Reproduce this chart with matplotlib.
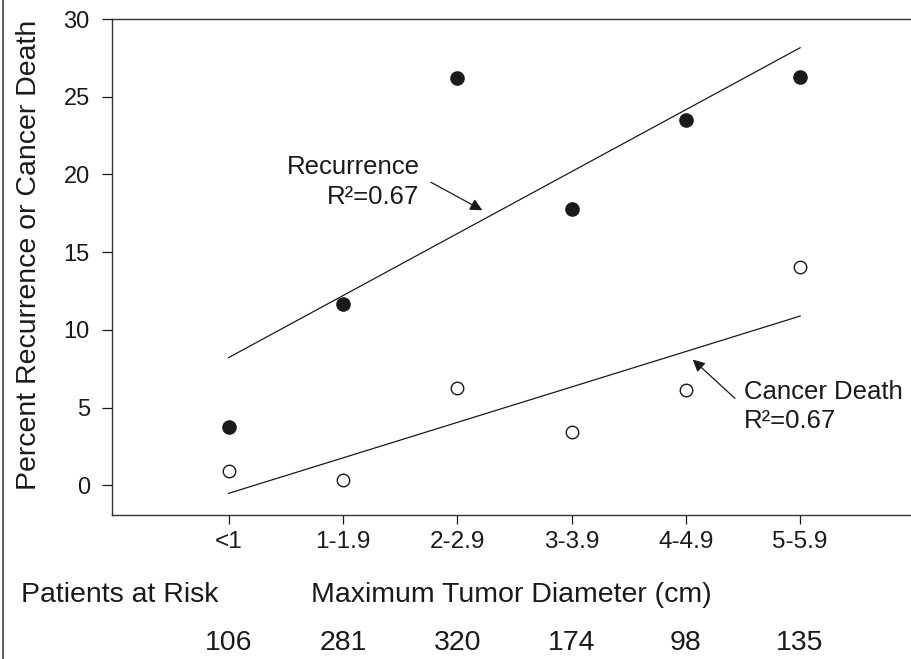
import numpy as np
import matplotlib.pyplot as plt
from matplotlib.lines import Line2D

plt.rcParams['font.family'] = ['Liberation Sans', 'DejaVu Sans']

# datos
categorias = ['<1', '1-1.9', '2-2.9', '3-3.9', '4-4.9', '5-5.9']
recurrencia = [3.74, 11.69, 26.18, 17.78, 23.49, 26.24]
muerte = [0.96, 0.37, 6.24, 3.44, 6.11, 14.04]
pacientes = [106, 281, 320, 174, 98, 135]

x = np.arange(len(categorias))
tinta = '#1a1a1a'

fig = plt.figure(figsize=(9.11, 6.59), dpi=100)
ax = fig.add_axes([112/911, 144/659, 1 - 112/911, 496/659])

# rectas de regresion
m1, b1 = np.polyfit(x, recurrencia, 1)
m2, b2 = np.polyfit(x, muerte, 1)
xr = np.array([x[0], x[-1]])
ax.plot(xr, m1*xr + b1, color=tinta, lw=0.9)
ax.plot(xr, m2*xr + b2, color=tinta, lw=0.9)

ax.plot(x, recurrencia, 'o', color=tinta, ms=9.5, mec=tinta)
ax.plot(x, muerte, 'o', mfc='white', mec=tinta, mew=1.0, ms=9)

ax.set_xlim(-1.02, 5.97)
ax.set_ylim(-1.9, 30)
ax.set_xticks(x)
ax.set_xticklabels(categorias)
ax.set_yticks([0, 5, 10, 15, 20, 25, 30])
ax.tick_params(axis='y', labelsize=17, colors=tinta, length=7, width=0.9, pad=9)
ax.tick_params(axis='x', labelsize=17.5, colors=tinta, length=6.5, width=0.9, pad=5)
ax.spines['right'].set_visible(False)
for s in ['top', 'left', 'bottom']:
    ax.spines[s].set_color('#333333')
    ax.spines[s].set_linewidth(1.0)

fig.text(29/911, 0.613, 'Percent Recurrence or Cancer Death', fontsize=20.5,
         color=tinta, rotation=90, ha='center', va='center')

# anotaciones
ax.text(1.67, 20.04, 'Recurrence', fontsize=18.5, color=tinta, ha='right', va='baseline')
ax.text(1.67, 18.11, 'R²=0.67', fontsize=18.5, color=tinta, ha='right', va='baseline')
ax.annotate('', xy=(2.22, 17.7), xytext=(1.77, 19.5),
            arrowprops=dict(arrowstyle='-|>', color=tinta, lw=0.9,
                            mutation_scale=18, shrinkA=0, shrinkB=0))
ax.text(4.51, 5.58, 'Cancer Death', fontsize=18.5, color=tinta, ha='left', va='baseline')
ax.text(4.51, 3.69, 'R²=0.67', fontsize=18.5, color=tinta, ha='left', va='baseline')
ax.annotate('', xy=(4.06, 8.1), xytext=(4.43, 5.6),
            arrowprops=dict(arrowstyle='-|>', color=tinta, lw=0.9,
                            mutation_scale=18, shrinkA=0, shrinkB=0))

# texto inferior
tr = ax.get_xaxis_transform()
ax.text(-1.814, -0.175, 'Patients at Risk', transform=tr, fontsize=20.5,
        color=tinta, ha='left', va='baseline', clip_on=False)
ax.text(0.717, -0.175, 'Maximum Tumor Diameter (cm)', transform=tr, fontsize=20.5,
        color=tinta, ha='left', va='baseline', clip_on=False)
for xi, n in zip(x, pacientes):
    ax.text(xi, -0.272, str(n), transform=tr, fontsize=20.5, color=tinta,
            ha='center', va='baseline', clip_on=False)

# borde izquierdo
fig.add_artist(Line2D([3/911, 3/911], [0, 1], transform=fig.transFigure,
                      color='#444444', lw=1.2))

fig.savefig('out.png', dpi=100)
